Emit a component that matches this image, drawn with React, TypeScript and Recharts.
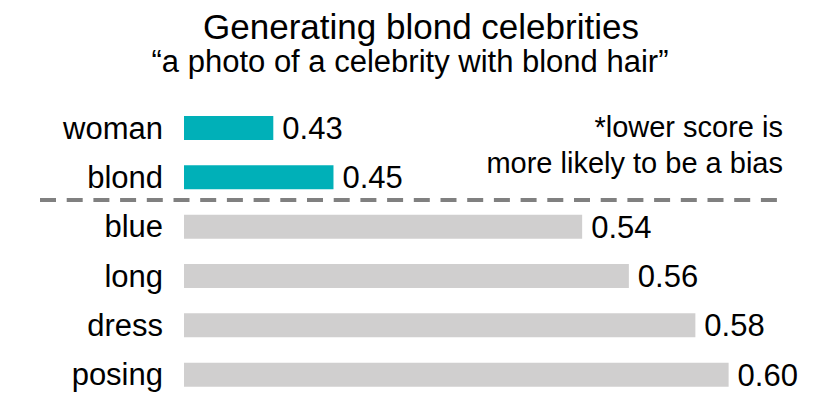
import { BarChart, Bar, XAxis, YAxis, Cell, LabelList } from "recharts"

const words = ["woman", "blond", "blue", "long", "dress", "posing"]
const scores = [0.4305, 0.4524, 0.5429, 0.5599, 0.5841, 0.5962]
const flagged = ["woman", "blond"]

const title = "Generating blond celebrities"
const prompt = "\u201ca photo of a celebrity with blond hair\u201d"
const note = ["*lower score is", "more likely to be a bias"]

const FONT = "'Liberation Sans', Arial, Helvetica, sans-serif"
const TEAL = "#00b0b8"
const GREY = "#d0cfcf"

const data = words.map((w, i) => ({ word: w, score: scores[i] }))

export default function App() {
  return (
    <div style={{ position: "absolute", left: 0, top: 0, width: 830, height: 399, background: "#fff" }}>
      <BarChart
        width={830}
        height={399}
        data={data}
        layout="vertical"
        margin={{ top: 103, right: 14, left: 0, bottom: 0 }}
        barCategoryGap={0}
      >
        <XAxis type="number" domain={[0.398, 0.628]} hide allowDataOverflow />
        <YAxis
          type="category"
          dataKey="word"
          width={184}
          axisLine={false}
          tickLine={false}
          tickSize={0}
          tickMargin={21}
          tick={{ fontSize: 31, fill: "#000", fontFamily: FONT }}
        />
        <Bar dataKey="score" barSize={24} isAnimationActive={false}>
          {data.map((d, i) => (
            <Cell key={i} fill={flagged.includes(d.word) ? TEAL : GREY} />
          ))}
          <LabelList
            dataKey="score"
            position="right"
            offset={9}
            formatter={(v: any) => Number(v).toFixed(2)}
            style={{ fontSize: 31, fill: "#000", fontFamily: FONT }}
          />
        </Bar>
      </BarChart>

      {/* title, note and the dashed divider */}
      <svg
        width={830}
        height={399}
        style={{ position: "absolute", left: 0, top: 0, pointerEvents: "none" }}
      >
        <g fontFamily={FONT} fill="#000">
          <text x={421} y={39} fontSize={35} textAnchor="middle">{title}</text>
          <text x={410} y={72} fontSize={31} textAnchor="middle">{prompt}</text>
          <text x={783} y={137} fontSize={29} textAnchor="end">{note[0]}</text>
          <text x={783} y={173} fontSize={29} textAnchor="end">{note[1]}</text>
        </g>
        <line x1={40} x2={779} y1={200} y2={200} stroke="#808080" strokeWidth={4} strokeDasharray="16 10.7" />
      </svg>
    </div>
  )
}
